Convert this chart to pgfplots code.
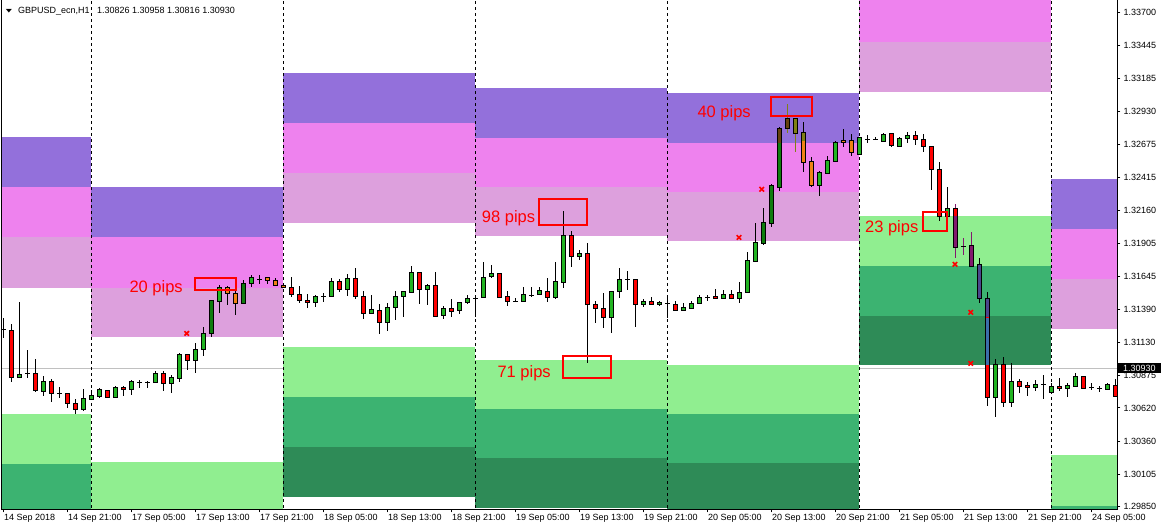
\documentclass[border=0pt]{standalone}
\usepackage{fontspec}
\setmainfont{Liberation Sans}
\newfontfamily\dejavu{DejaVu Sans}
\usepackage{graphicx}
\usepackage{pgfplots}
\usepackage{pgfplotstable}
\pgfplotsset{compat=1.18}

\definecolor{mp}{RGB}{147,112,219}
\definecolor{vi}{RGB}{238,130,238}
\definecolor{pl}{RGB}{221,160,221}
\definecolor{lg}{RGB}{144,238,144}
\definecolor{ms}{RGB}{60,179,113}
\definecolor{sg}{RGB}{46,139,87}
\definecolor{cbull}{RGB}{34,180,34}
\definecolor{cdg}{RGB}{15,125,15}
\definecolor{cbear}{RGB}{255,0,0}
\definecolor{corg}{RGB}{240,130,20}
\definecolor{coli}{RGB}{128,128,20}
\definecolor{cbrn}{RGB}{100,65,15}
\definecolor{cpur}{RGB}{130,25,110}
\definecolor{cslt}{RGB}{75,70,140}
\definecolor{cblu}{RGB}{60,110,170}
\definecolor{bidgray}{RGB}{192,192,192}

% bullish candles: k open high low close
\pgfplotstableread{
k o h l c
2 1.30861 1.31445 1.30853 1.30884
5 1.30752 1.30868 1.30713 1.30829
10 1.30611 1.30767 1.30596 1.30697
11 1.30689 1.30759 1.30689 1.30720
12 1.30713 1.30775 1.30697 1.30767
14 1.30705 1.30791 1.30705 1.30783
16 1.30767 1.30837 1.30720 1.30829
19 1.30822 1.30907 1.30822 1.30892
21 1.30814 1.30876 1.30736 1.30861
22 1.30853 1.31048 1.30822 1.31040
24 1.30993 1.31126 1.30892 1.31079
25 1.31079 1.31250 1.31024 1.31204
27 1.31453 1.31578 1.31359 1.31562
31 1.31593 1.31656 1.31562 1.31640
39 1.31445 1.31500 1.31406 1.31492
41 1.31492 1.31632 1.31492 1.31609
43 1.31547 1.31663 1.31492 1.31632
46 1.31359 1.31500 1.31359 1.31391
48 1.31289 1.31437 1.31219 1.31406
49 1.31406 1.31531 1.31305 1.31492
50 1.31492 1.31531 1.31328 1.31531
51 1.31523 1.31726 1.31523 1.31679
53 1.31547 1.31586 1.31422 1.31578
55 1.31344 1.31414 1.31313 1.31398
57 1.31383 1.31445 1.31352 1.31445
58 1.31445 1.31500 1.31430 1.31476
60 1.31484 1.31757 1.31484 1.31640
61 1.31648 1.31734 1.31632 1.31671
65 1.31453 1.31562 1.31453 1.31508
67 1.31500 1.31562 1.31500 1.31531
69 1.31484 1.31757 1.31469 1.31609
70 1.31601 1.32154 1.31554 1.31967
72 1.31804 1.31851 1.31773 1.31827
76 1.31328 1.31531 1.31204 1.31531
77 1.31531 1.31710 1.31476 1.31624
80 1.31430 1.31469 1.31406 1.31453
82 1.31430 1.31453 1.31414 1.31445
85 1.31383 1.31437 1.31383 1.31406
86 1.31398 1.31453 1.31398 1.31437
87 1.31437 1.31500 1.31430 1.31484
90 1.31476 1.31539 1.31469 1.31508
92 1.31476 1.31601 1.31437 1.31523
93 1.31523 1.31835 1.31523 1.31773
94 1.31765 1.32061 1.31757 1.31913
102 1.32357 1.32466 1.32271 1.32451
103 1.32451 1.32583 1.32451 1.32552
104 1.32544 1.32700 1.32544 1.32692
107 1.32599 1.32731 1.32591 1.32731
110 1.32700 1.32762 1.32692 1.32755
112 1.32661 1.32731 1.32653 1.32723
113 1.32723 1.32770 1.32684 1.32747
118 1.32115 1.32341 1.32115 1.32178
124 1.30705 1.31001 1.30549 1.30962
126 1.30666 1.30970 1.30627 1.30829
129 1.30783 1.30837 1.30752 1.30806
131 1.30744 1.30814 1.30728 1.30791
133 1.30775 1.30814 1.30705 1.30798
134 1.30791 1.30892 1.30783 1.30868
138 1.30767 1.30814 1.30759 1.30806
}\bull

% bearish candles
\pgfplotstableread{
k o h l c
1 1.31227 1.31274 1.30822 1.30861
4 1.30892 1.31001 1.30744 1.30759
6 1.30829 1.30845 1.30666 1.30736
8 1.30736 1.30736 1.30619 1.30658
9 1.30658 1.30689 1.30572 1.30611
13 1.30759 1.30759 1.30705 1.30705
15 1.30783 1.30791 1.30713 1.30767
20 1.30892 1.30907 1.30752 1.30814
23 1.31040 1.31040 1.30915 1.30993
36 1.31562 1.31640 1.31484 1.31508
37 1.31508 1.31570 1.31437 1.31461
38 1.31461 1.31508 1.31398 1.31445
42 1.31609 1.31624 1.31523 1.31547
44 1.31632 1.31710 1.31469 1.31492
45 1.31492 1.31531 1.31313 1.31359
47 1.31383 1.31430 1.31196 1.31289
52 1.31679 1.31679 1.31430 1.31547
54 1.31578 1.31679 1.31328 1.31336
56 1.31398 1.31469 1.31328 1.31375
62 1.31671 1.31671 1.31484 1.31484
63 1.31492 1.31531 1.31414 1.31453
68 1.31531 1.31632 1.31445 1.31484
71 1.31967 1.31999 1.31718 1.31804
73 1.31827 1.31905 1.30970 1.31430
74 1.31430 1.31453 1.31282 1.31398
75 1.31398 1.31515 1.31243 1.31328
79 1.31624 1.31624 1.31250 1.31430
81 1.31453 1.31484 1.31430 1.31430
84 1.31430 1.31453 1.31383 1.31383
89 1.31492 1.31547 1.31476 1.31476
91 1.31508 1.31539 1.31469 1.31476
111 1.32755 1.32762 1.32653 1.32669
114 1.32747 1.32778 1.32669 1.32716
115 1.32716 1.32755 1.32614 1.32661
116 1.32661 1.32661 1.32318 1.32482
117 1.32482 1.32536 1.32076 1.32115
123 1.31476 1.31523 1.30635 1.30705
125 1.30962 1.31017 1.30627 1.30666
127 1.30829 1.30845 1.30736 1.30791
128 1.30798 1.30822 1.30713 1.30783
132 1.30791 1.30853 1.30752 1.30775
135 1.30868 1.30868 1.30775 1.30775
139 1.30798 1.30845 1.30713 1.30713
}\bear

% doji candles
\pgfplotstableread{
k o h l c
0 1.31235 1.31321 1.31165 1.31235
3 1.30892 1.31071 1.30853 1.30892
7 1.30736 1.30783 1.30697 1.30736
17 1.30822 1.30837 1.30775 1.30822
18 1.30822 1.30829 1.30775 1.30822
32 1.31624 1.31656 1.31586 1.31624
40 1.31492 1.31515 1.31445 1.31492
59 1.31476 1.31500 1.31328 1.31476
64 1.31453 1.31476 1.31445 1.31453
66 1.31500 1.31562 1.31484 1.31500
78 1.31624 1.31687 1.31539 1.31624
83 1.31437 1.31476 1.31321 1.31437
88 1.31484 1.31500 1.31453 1.31484
108 1.32716 1.32747 1.32684 1.32716
109 1.32716 1.32731 1.32708 1.32716
130 1.30806 1.30876 1.30689 1.30806
136 1.30783 1.30814 1.30759 1.30783
137 1.30775 1.30791 1.30744 1.30775
}\doji

% highlighted candles
\pgfplotstableread{
k o h l c
28 1.31562 1.31570 1.31422 1.31515
29 1.31515 1.31539 1.31344 1.31437
33 1.31640 1.31640 1.31586 1.31617
34 1.31617 1.31632 1.31578 1.31578
35 1.31578 1.31593 1.31554 1.31562
100 1.32770 1.32848 1.32458 1.32536
101 1.32544 1.32575 1.32341 1.32357
105 1.32708 1.32794 1.32653 1.32692
106 1.32708 1.32755 1.32583 1.32614
}\orng

\pgfplotstableread{
k o h l c
26 1.31204 1.31461 1.31172 1.31461
30 1.31437 1.31617 1.31437 1.31593
95 1.31905 1.32178 1.31889 1.32069
96 1.32061 1.32365 1.32030 1.32357
97 1.32341 1.32809 1.32310 1.32801
}\dgrn

\pgfplotstableread{
k o h l c
99 1.32879 1.32879 1.32614 1.32762
}\oliv

\pgfplotstableread{
k o h l c
98 1.32879 1.32988 1.32762 1.32801
}\brwn

\pgfplotstableread{
k o h l c
119 1.32178 1.32209 1.31788 1.31874
120 1.31882 1.31944 1.31812 1.31882
121 1.31889 1.31991 1.31726 1.31726
}\purp

\pgfplotstableread{
k o h l c
122 1.31741 1.31788 1.31437 1.31476
}\slat

% two-tone body overlays: k from to
\pgfplotstableread{
k o c
97 1.32801 1.32684
}\ovbrwn
\pgfplotstableread{
k o c
100 1.32770 1.32700
}\ovoliv
\pgfplotstableread{
k o c
119 1.32178 1.32115
}\ovred
\pgfplotstableread{
k o c
123 1.31476 1.31328
}\ovslat
\pgfplotstableread{
k o c
123 1.31328 1.30954
}\ovblue

\newcommand{\candles}[3]{%
 \addplot[draw=none,forget plot,error bars/.cd,y dir=both,y explicit,error mark=none,
   error bar style={draw=#3,line width=1pt}]
   table[x=k,y expr={(\thisrow{h}+\thisrow{l})/2},y error expr={(\thisrow{h}-\thisrow{l})/2}] {#1};
 \addplot[draw=none,forget plot,error bars/.cd,y dir=both,y explicit,error mark=none,
   error bar style={draw=black,line width=5pt}]
   table[x=k,y expr={(\thisrow{o}+\thisrow{c})/2},y error expr={abs(\thisrow{c}-\thisrow{o})/2+0.000039}] {#1};
 \addplot[draw=none,forget plot,error bars/.cd,y dir=both,y explicit,error mark=none,
   error bar style={draw=#2,line width=3pt}]
   table[x=k,y expr={(\thisrow{o}+\thisrow{c})/2},y error expr={max(abs(\thisrow{c}-\thisrow{o})/2-0.000039,0)}] {#1};
}
\newcommand{\overlay}[2]{%
 \addplot[draw=none,forget plot,error bars/.cd,y dir=both,y explicit,error mark=none,
   error bar style={draw=#2,line width=3pt}]
   table[x=k,y expr={(\thisrow{o}+\thisrow{c})/2},y error expr={max(abs(\thisrow{c}-\thisrow{o})/2-0.000039,0)}] {#1};
}
\newcommand{\zone}[5]{\addplot[fill=#1,draw=none,forget plot] coordinates {(#2,#4) (#3,#4) (#3,#5) (#2,#5)};}
\newcommand{\sep}[1]{\addplot[black,line width=1pt,dash pattern=on 3pt off 3pt,forget plot] coordinates {(#1,1.2970) (#1,1.3390)};}
\newcommand{\rbox}[4]{\addplot[red,line width=2pt,line cap=rect,forget plot] coordinates {(#1,#3) (#2,#3) (#2,#4) (#1,#4) (#1,#3)};}
\newcommand{\pips}[3]{\node[anchor=base west,inner sep=0pt,text=red,font=\fontsize{16.5}{18}\selectfont] at (axis cs:#1,#2) {#3};}

\begin{document}
\begin{tikzpicture}
\useasboundingbox (-1.5pt,-18.7pt) rectangle (1160.5pt,509.3pt);
\begin{axis}[
  at={(0pt,0pt)}, anchor=south west,
  scale only axis, width=1115.8pt, height=510.3pt,
  xmin=-0.225, xmax=139.25, ymin=1.29830, ymax=1.33807,
  enlargelimits=false,
  axis on top=true,
  axis line style={line width=1pt,black},
  xtick={0,8,16,24,32,40,48,56,64,72,80,88,96,104,112,120,128,136},
  xticklabels={14 Sep 2018,14 Sep 21:00,17 Sep 05:00,17 Sep 13:00,17 Sep 21:00,18 Sep 05:00,18 Sep 13:00,18 Sep 21:00,19 Sep 05:00,19 Sep 13:00,19 Sep 21:00,20 Sep 05:00,20 Sep 13:00,20 Sep 21:00,21 Sep 05:00,21 Sep 13:00,21 Sep 21:00,24 Sep 05:00},
  ytick={1.33700,1.33445,1.33185,1.32930,1.32675,1.32415,1.32160,1.31905,1.31645,1.31390,1.31130,1.30875,1.30620,1.30360,1.30105,1.29850},
  yticklabels={1.33700,1.33445,1.33185,1.32930,1.32675,1.32415,1.32160,1.31905,1.31645,1.31390,1.31130,1.30875,1.30620,1.30360,1.30105,1.29850},
  xtick pos=bottom, ytick pos=right, yticklabel pos=right,
  tick align=outside, major tick length=3pt,
  tick style={black,line width=1pt},
  ticklabel style={font=\fontsize{9}{11}\selectfont},
  xticklabel style={anchor=north west,inner sep=0pt,xshift=0.5pt,yshift=-2pt},
  yticklabel style={anchor=west,inner sep=0pt,xshift=3pt},
]
% bid line (behind zones)
\addplot[bidgray,line width=1pt,forget plot] coordinates {(-1,1.30930) (141,1.30930)};
% zones
\zone{mp}{-1}{11}{1.32731}{1.32341}
\zone{vi}{-1}{11}{1.32341}{1.31952}
\zone{pl}{-1}{11}{1.31952}{1.31554}
\zone{lg}{-1}{11}{1.30576}{1.30184}
\zone{ms}{-1}{11}{1.30184}{1.29790}
\zone{mp}{11}{35}{1.32341}{1.31952}
\zone{vi}{11}{35}{1.31952}{1.31556}
\zone{pl}{11}{35}{1.31556}{1.31172}
\zone{lg}{11}{35}{1.30198}{1.29800}
\zone{mp}{35}{59}{1.33230}{1.32840}
\zone{vi}{35}{59}{1.32840}{1.32451}
\zone{pl}{35}{59}{1.32451}{1.32061}
\zone{lg}{35}{59}{1.31094}{1.30705}
\zone{ms}{35}{59}{1.30705}{1.30315}
\zone{sg}{35}{59}{1.30315}{1.29925}
\zone{mp}{59}{83}{1.33113}{1.32726}
\zone{vi}{59}{83}{1.32726}{1.32344}
\zone{pl}{59}{83}{1.32344}{1.31962}
\zone{lg}{59}{83}{1.30993}{1.30611}
\zone{ms}{59}{83}{1.30611}{1.30229}
\zone{sg}{59}{83}{1.30229}{1.29840}
\zone{mp}{83}{107}{1.33077}{1.32688}
\zone{vi}{83}{107}{1.32688}{1.32305}
\zone{pl}{83}{107}{1.32305}{1.31923}
\zone{lg}{83}{107}{1.30954}{1.30572}
\zone{ms}{83}{107}{1.30572}{1.30190}
\zone{sg}{83}{107}{1.30190}{1.29800}
\zone{vi}{107}{131}{1.33900}{1.33472}
\zone{pl}{107}{131}{1.33472}{1.33082}
\zone{lg}{107}{131}{1.32115}{1.31726}
\zone{ms}{107}{131}{1.31726}{1.31336}
\zone{sg}{107}{131}{1.31336}{1.30954}
\zone{mp}{131}{141}{1.32404}{1.32014}
\zone{vi}{131}{141}{1.32014}{1.31624}
\zone{pl}{131}{141}{1.31624}{1.31235}
\zone{lg}{131}{141}{1.30257}{1.29859}
\zone{ms}{131}{141}{1.29859}{1.29700}
% day separators
\sep{11}\sep{35}\sep{59}\sep{83}\sep{107}\sep{131}
% candles
\candles{\bull}{cbull}{black}
\candles{\bear}{cbear}{black}
\candles{\doji}{black}{black}
\candles{\orng}{corg}{black}
\candles{\dgrn}{cdg}{black}
\candles{\oliv}{coli}{coli}
\candles{\brwn}{cbrn}{coli}
\candles{\purp}{cpur}{cpur}
\candles{\slat}{cslt}{black}
\overlay{\ovbrwn}{cbrn}
\overlay{\ovoliv}{coli}
\overlay{\ovred}{cbear}
\overlay{\ovslat}{cslt}
\overlay{\ovblue}{cblu}
% markers
\addplot[only marks,mark=x,mark size=3.2pt,red,line width=1.6pt,forget plot] coordinates {
(22.93,1.31201) (91.96,1.31949) (94.8,1.32324) (118.96,1.31739) (120.93,1.31365) (120.93,1.30967)};
% annotation boxes
\rbox{23.96}{29.09}{1.31630}{1.31539}
\rbox{66.96}{73.0}{1.32250}{1.32045}
\rbox{69.93}{76.0}{1.31027}{1.30855}
\rbox{95.93}{101.05}{1.33041}{1.32895}
\rbox{114.93}{118.0}{1.32149}{1.31999}
\pips{15.75}{1.31518}{20 pips}
\pips{59.8}{1.32066}{98 pips}
\pips{61.75}{1.30855}{71 pips}
\pips{86.75}{1.32885}{40 pips}
\pips{107.7}{1.31988}{23 pips}
% title
\node[anchor=base west,inner sep=0pt] at (axis cs:0.3,1.33700) {\dejavu\fontsize{8}{9}\selectfont\scalebox{1}[0.6]{▼}};
\node[anchor=base west,inner sep=0pt,font=\fontsize{9}{11}\selectfont] at (axis cs:1.84,1.33695) {GBPUSD\_ecn,H1};
\node[anchor=base west,inner sep=0pt,font=\fontsize{9}{11}\selectfont] at (axis cs:11.71,1.33695) {1.30826 1.30958 1.30816 1.30930};
\coordinate (cp) at (axis cs:139.25,1.30930);
\end{axis}
\node[anchor=west,fill=black,text=white,inner xsep=5pt,inner ysep=0pt,minimum height=9.5pt,font=\fontsize{9}{11}\selectfont,xshift=0.5pt] at (cp) {1.30930};
\end{tikzpicture}
\end{document}
